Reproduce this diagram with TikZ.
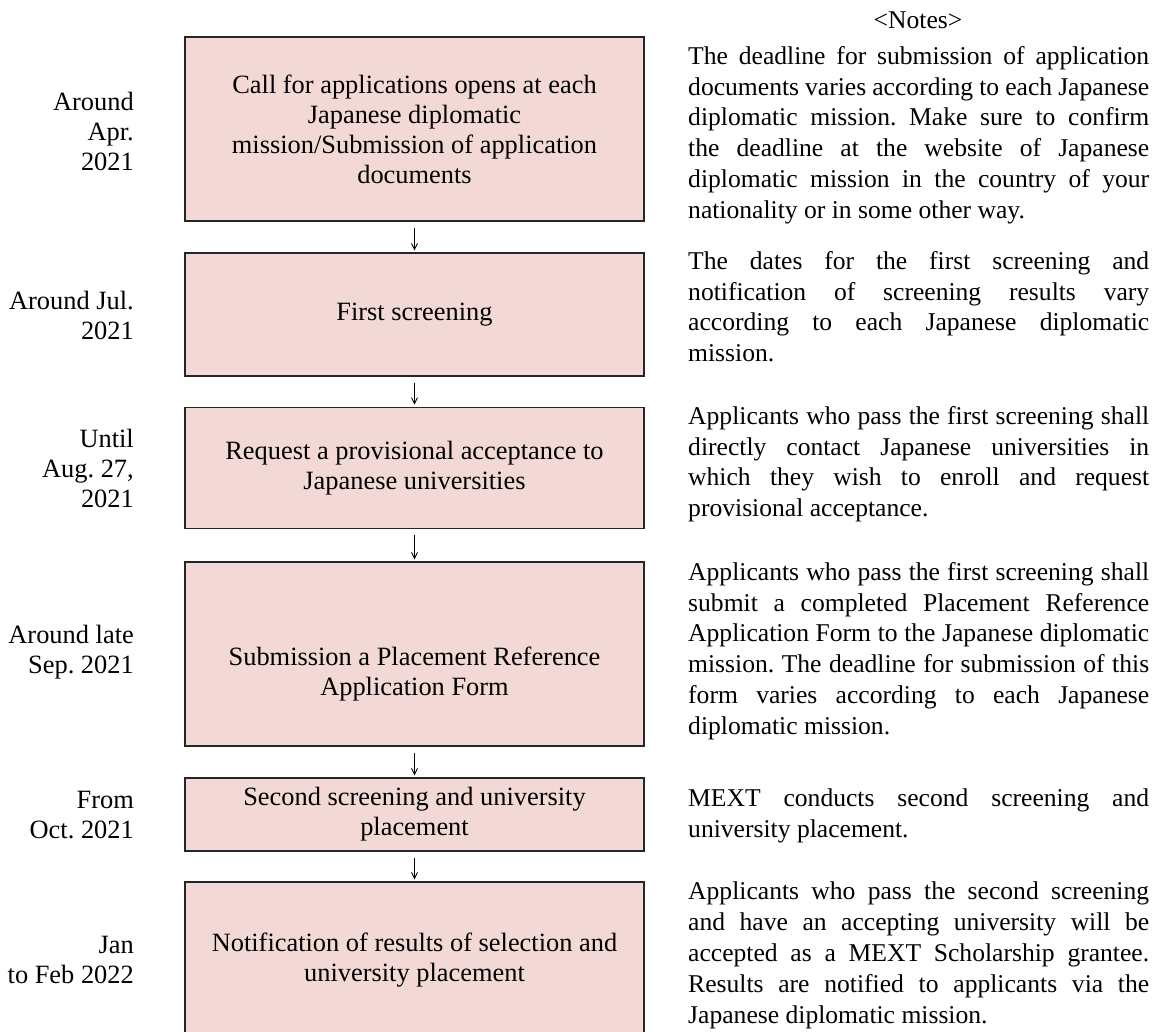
\documentclass[tikz,border=0pt]{standalone}
\usepackage{fontspec}
\setmainfont{Liberation Serif}
\usetikzlibrary{arrows.meta,positioning}
\frenchspacing

\definecolor{boxfill}{RGB}{242,217,213}

\begin{document}
\begin{tikzpicture}[x=1pt,y=-1pt,
  stepbox/.style={draw=black!85,line width=1.2pt,fill=boxfill,minimum width=459pt,align=center,inner sep=0pt,font=\fontsize{26.4}{30}\selectfont},
  boxtext/.style={align=center,inner sep=0pt,font=\fontsize{26.4}{30}\selectfont},
  datelbl/.style={anchor=east,align=right,inner sep=0pt,font=\fontsize{26.4}{30}\selectfont},
  notetxt/.style={anchor=north west,text width=461pt,align=justify,inner sep=0pt,font=\fontsize{25.6}{30.8}\selectfont},
  flow/.style={-{Straight Barb[length=6pt,width=6pt]},line width=0.9pt,shorten <=6pt,shorten >=2pt}]
\useasboundingbox (0,0) rectangle (1172,1032);

% flow of steps
\node[stepbox,minimum height=184pt] (call) at (414.5,129) {Call for applications opens at each\\Japanese diplomatic\\mission/Submission of application\\documents};
\node[stepbox,minimum height=123pt] (first) at (414.5,314.5) {First screening};
\node[stepbox,minimum height=121.5pt] (request) at (414.5,468) {Request a provisional acceptance to\\Japanese universities};
\node[stepbox,minimum height=184pt] (placement) at (414.5,654) {};
\node[boxtext] (placementtxt) at ([yshift=-20pt]placement.center) {Submission a Placement Reference\\Application Form};
\node[stepbox,minimum height=73pt] (second) at (414.5,814.5) {Second screening and university\\placement};
\node[stepbox,minimum height=156pt] (result) at (414.5,960) {Notification of results of selection and\\university placement};

\draw[flow] (call.south) -- (first.north);
\draw[flow] (first.south) -- (request.north);
\draw[flow] (request.south) -- (placement.north);
\draw[flow] (placement.south) -- (second.north);
\draw[flow] (second.south) -- (result.north);

% dates
\node[datelbl] (d1) at (134,131) {Around\\Apr.\\2021};
\node[datelbl] (d2) at (134,315) {Around Jul.\\2021};
\node[datelbl] (d3) at (134,468) {Until\\Aug. 27,\\2021};
\node[datelbl] (d4) at (134,652) {Around late\\Sep. 2021};
\node[datelbl] (d5) at (134,815) {From\\Oct. 2021};
\node[datelbl] (d6) at (134,960) {Jan\\to Feb 2022};

% notes
\node[boxtext,font=\fontsize{25.6}{30.8}\selectfont] (notes) at (918,20) {\textless Notes\textgreater};
\node[notetxt] (n1) at (688,46) {The deadline for submission of application\linebreak documents varies according to each Japanese\linebreak diplomatic mission. Make sure to confirm\linebreak the deadline at the website of Japanese\linebreak diplomatic mission in the country of your\linebreak nationality or in some other way.};
\node[notetxt] (n2) at (688,251) {The dates for the first screening and\linebreak notification of screening results vary\linebreak according to each Japanese diplomatic\linebreak mission.};
\node[notetxt] (n3) at (688,406) {Applicants who pass the first screening shall\linebreak directly contact Japanese universities in\linebreak which they wish to enroll and request\linebreak provisional acceptance.};
\node[notetxt] (n4) at (688,562) {Applicants who pass the first screening shall\linebreak submit a completed Placement Reference\linebreak Application Form to the Japanese diplomatic\linebreak mission. The deadline for submission of this\linebreak form varies according to each Japanese\linebreak diplomatic mission.};
\node[notetxt] (n5) at (688,789) {MEXT conducts second screening and\linebreak university placement.};
\node[notetxt] (n6) at (688,882) {Applicants who pass the second screening\linebreak and have an accepting university will be\linebreak accepted as a MEXT Scholarship grantee.\linebreak Results are notified to applicants via the\linebreak Japanese diplomatic mission.};
\end{tikzpicture}
\end{document}
